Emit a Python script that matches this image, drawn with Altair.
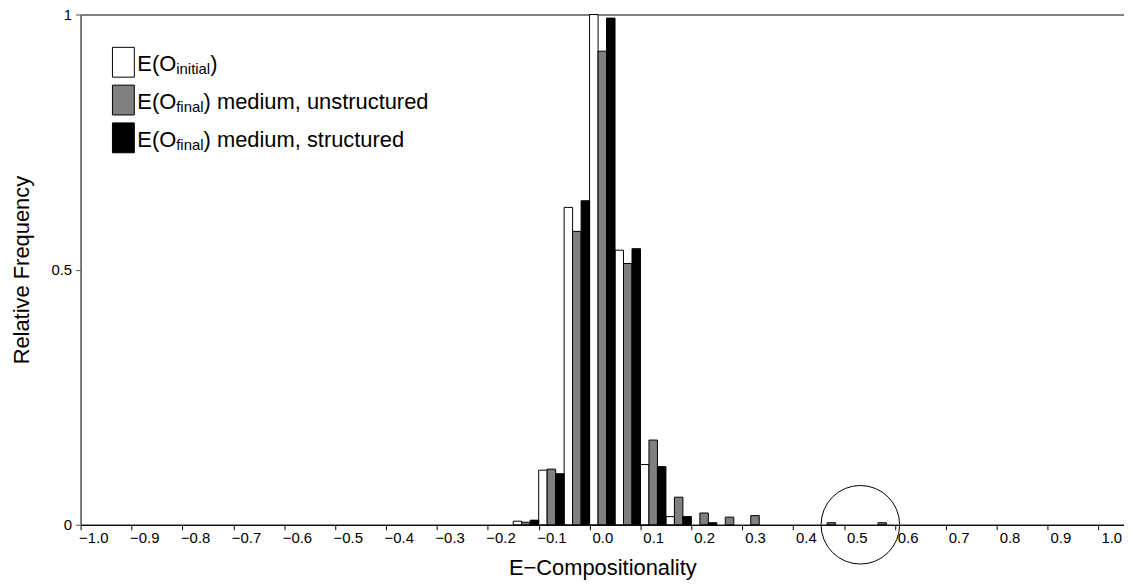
import altair as alt
import pandas as pd

# ---- data ----
bin_starts = [-0.15, -0.10, -0.05, 0.00, 0.05, 0.10, 0.15, 0.20, 0.25, 0.30, 0.35, 0.40, 0.45, 0.50, 0.55]
initial_freq = [0.007, 0.107, 0.622, 1.000, 0.538, 0.118, 0.016, 0.0, 0.0, 0.0, 0.0, 0.0, 0.0, 0.0, 0.0]
unstructured_freq = [0.005, 0.109, 0.575, 0.928, 0.512, 0.166, 0.054, 0.023, 0.015, 0.018, 0.0, 0.0, 0.004, 0.0, 0.004]
structured_freq = [0.009, 0.100, 0.635, 0.993, 0.541, 0.114, 0.016, 0.004, 0.0, 0.0, 0.0, 0.0, 0.0, 0.0, 0.0]
series_names = ["initial", "unstructured", "structured"]
series_fills = ["#ffffff", "#808080", "#000000"]
bin_width = 0.05

x_tick_values = [round(-1.0 + 0.05 * i, 2) for i in range(42)]
y_tick_values = [0, 0.5, 1]

circle_x = [0.532]
circle_y = [0.0]

legend_main = ["E(O", "E(O", "E(O"]
legend_sub = ["initial", "final", "final"]
legend_rest = [")", ") medium, unstructured", ") medium, structured"]

FONT = "Liberation Sans"

rows = []
for k, (name, vals) in enumerate(zip(series_names, [initial_freq, unstructured_freq, structured_freq])):
    for s, v in zip(bin_starts, vals):
        if v > 0:
            rows.append({"series": name,
                         "lo": s + k * bin_width / 3,
                         "hi": s + (k + 1) * bin_width / 3,
                         "freq": v,
                         "base": 0.0})
df = pd.DataFrame(rows)

x_scale = alt.Scale(domain=[-1.0, 1.05], nice=False, zero=False)
y_scale = alt.Scale(domain=[0, 1], nice=False, zero=True)

bars = alt.Chart(df).mark_bar(stroke="black", strokeWidth=1).encode(
    x=alt.X("lo:Q", scale=x_scale,
            axis=alt.Axis(values=x_tick_values, grid=False, tickSize=5, tickColor="black",
                          domainColor="black", labelFontSize=15, labelPadding=1,
                          labelOffset=12.8, labelFlush=False, labelOverlap=False,
                          labelExpr="(abs(round(datum.value*20)) % 2 == 0) ? format(datum.value, '.1f') : ''",
                          title="E\u2212Compositionality", titleFontSize=22, titlePadding=12)),
    x2="hi:Q",
    y=alt.Y("freq:Q", scale=y_scale,
            axis=alt.Axis(values=y_tick_values, grid=False, tickSize=5, tickColor="#555555",
                          domainColor="#707070", labelFontSize=15, labelPadding=4,
                          labelExpr="format(datum.value, '~g')",
                          title="Relative Frequency", titleFontSize=22, titlePadding=18)),
    y2="base:Q",
    fill=alt.Fill("series:N", scale=alt.Scale(domain=series_names, range=series_fills), legend=None),
)

circle = alt.Chart(pd.DataFrame({"cx": circle_x, "cy": circle_y})).mark_point(
    shape="circle", size=6241, filled=False, color="black", strokeWidth=1, opacity=1
).encode(x=alt.X("cx:Q", scale=x_scale), y=alt.Y("cy:Q", scale=y_scale))

# ---- hand-built legend (subscripts need separate text pieces) ----
char_w = {"E": 0.667, "(": 0.333, "O": 0.778, "i": 0.222, "n": 0.556, "t": 0.278,
          "a": 0.556, "l": 0.222, "f": 0.278}
MAIN_FS = 22
SUB_FS = 15
box_x0, box_x1 = 32, 54
text_x = 57
row_centers = [48, 86, 124]
one = alt.Data(values=[{"k": 1}])
legend_layers = []
for i in range(3):
    yc = row_centers[i]
    base = yc + 9
    legend_layers.append(
        alt.Chart(one).mark_rect(fill=series_fills[i], stroke="black", strokeWidth=1).encode(
            x=alt.value(box_x0), x2=alt.value(box_x1), y=alt.value(yc - 15), y2=alt.value(yc + 15)))
    w_main = sum(char_w[c] for c in legend_main[i]) * MAIN_FS
    w_sub = sum(char_w[c] for c in legend_sub[i]) * SUB_FS
    legend_layers.append(
        alt.Chart(one).mark_text(align="left", baseline="alphabetic", font=FONT, fontSize=MAIN_FS, color="black").encode(
            x=alt.value(text_x), y=alt.value(base), text=alt.value(legend_main[i])))
    legend_layers.append(
        alt.Chart(one).mark_text(align="left", baseline="alphabetic", font=FONT, fontSize=SUB_FS, color="black").encode(
            x=alt.value(text_x + w_main), y=alt.value(base + 3), text=alt.value(legend_sub[i])))
    legend_layers.append(
        alt.Chart(one).mark_text(align="left", baseline="alphabetic", font=FONT, fontSize=MAIN_FS, color="black").encode(
            x=alt.value(text_x + w_main + w_sub), y=alt.value(base), text=alt.value(legend_rest[i])))

chart = alt.layer(bars, circle, *legend_layers).properties(
    width=1049, height=513,
    autosize=alt.AutoSizeParams(type="none"),
    padding={"left": 73, "top": 5, "right": 0, "bottom": 56},
).configure(font=FONT).configure_view(stroke="black", strokeWidth=1).configure_axis(
    labelColor="black", titleColor="black", titleFontWeight="normal", labelFont=FONT, titleFont=FONT
)

chart.save("out.html", embed_options={"renderer": "svg", "actions": False})
